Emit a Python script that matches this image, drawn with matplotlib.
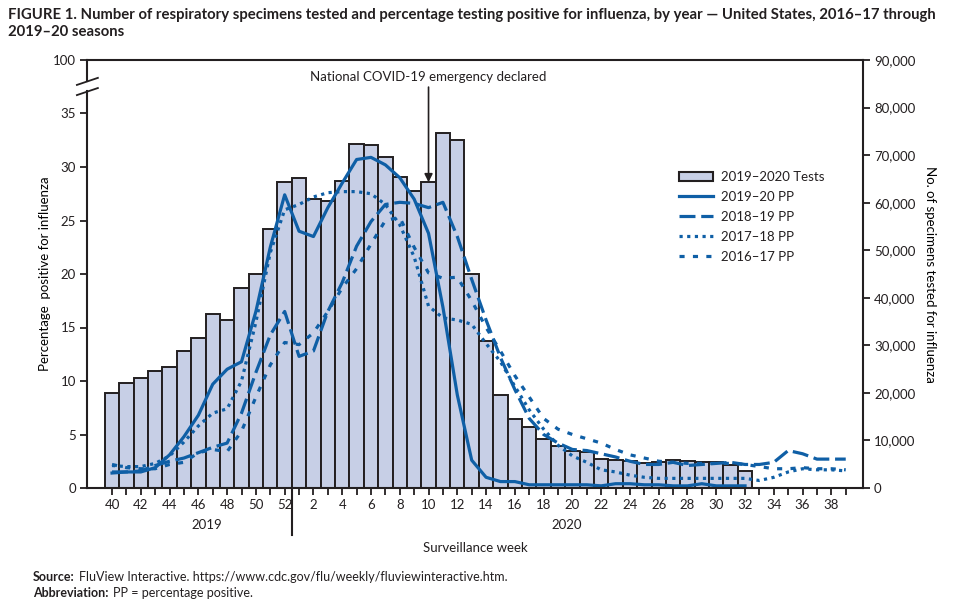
import numpy as np
import matplotlib.pyplot as plt
import matplotlib.transforms as mtransforms
from matplotlib.patches import Patch
from matplotlib.lines import Line2D

# surveillance weeks: 40..52 of 2019, then 1..39 of 2020
weeks = list(range(40, 53)) + list(range(1, 40))

# 2019-2020 specimens tested (weeks 40 .. 32)
tests = [20000, 22100, 23100, 24600, 25400, 28800, 31500, 36600, 35300, 42000,
         45000, 54400, 64300,
         65100, 60700, 60300, 64500, 72300, 72100, 69500, 65300, 62400, 64300,
         74600, 73100, 45000, 30900, 19500, 14500, 12800, 10300, 8800, 7800,
         7600, 6100, 5900, 5700, 5200, 5500, 5900, 5700, 5500, 5500, 4800, 3600]

# percentage positive per season
pp_1920 = [1.4, 1.5, 1.5, 1.9, 3.1, 4.8, 6.8, 9.7, 11.1, 11.8, 16.5, 22.5, 27.4,
           24.0, 23.5, 26.2, 28.5, 30.7, 30.9, 30.2, 29.0, 27.0, 23.8, 16.9, 8.7,
           2.6, 1.0, 0.6, 0.6, 0.3, 0.3, 0.3, 0.3, 0.3, 0.2, 0.4, 0.4, 0.3, 0.3,
           0.2, 0.2, 0.4, 0.2, 0.2, 0.2]
pp_1819 = [1.5, 1.5, 1.6, 2.1, 2.5, 2.8, 3.3, 3.8, 4.2, 7.0, 10.8, 14.3, 16.5,
           12.3, 12.8, 16.5, 19.2, 22.6, 24.9, 26.5, 26.7, 26.6, 26.2, 26.7, 23.5,
           19.5, 15.7, 12.2, 9.2, 6.5, 5.0, 4.2, 3.6, 3.5, 3.2, 2.9, 2.5, 2.2, 2.2,
           2.4, 2.1, 2.2, 2.3, 2.4, 2.2, 2.2, 2.4, 3.5, 3.2, 2.7, 2.7, 2.7]
pp_1718 = [2.1, 2.0, 2.0, 2.3, 3.0, 4.3, 5.8, 7.0, 7.4, 10.0, 15.5, 22.0, 26.0,
           26.5, 27.2, 27.6, 27.7, 27.7, 27.5, 26.5, 24.6, 21.6, 17.0, 15.9, 15.7,
           15.3, 13.5, 11.8, 9.5, 7.3, 5.5, 4.0, 3.0, 2.4, 1.7, 1.5, 1.2, 1.0, 0.9,
           0.9, 0.9, 0.9, 0.9, 0.9, 0.9, 0.7, 1.0, 1.5, 1.8, 1.7, 1.7, 1.6]
pp_1617 = [2.2, 1.9, 1.8, 1.8, 2.2, 2.4, 3.3, 3.6, 3.4, 5.3, 8.5, 11.5, 13.6,
           13.4, 14.5, 16.5, 18.7, 20.5, 22.8, 25.0, 25.3, 22.5, 20.1, 19.6, 19.7,
           17.5, 15.0, 12.8, 10.5, 8.5, 6.5, 5.5, 5.0, 4.6, 4.2, 3.6, 3.1, 2.8, 2.5,
           2.4, 2.3, 2.3, 2.3, 2.3, 2.2, 2.0, 1.8, 1.8, 1.9, 1.8, 1.8, 1.7]

right_ticks = list(range(0, 90001, 10000))
left_ticks = [0, 5, 10, 15, 20, 25, 30, 35, 40]
left_labels = ['0', '5', '10', '15', '20', '25', '30', '35', '100']

blue = '#0f5fa6'
bar_fc = '#c7cfe6'
dark = '#231f20'

plt.rcParams['font.family'] = ['Lato', 'DejaVu Sans']
plt.rcParams['text.color'] = dark

fig = plt.figure(figsize=(9.6, 6.13), dpi=100)
ax = fig.add_axes([87 / 960, 1 - 488 / 613, (863 - 87) / 960, (488 - 60) / 613])
ax2 = ax.twinx()

x_all = np.arange(len(weeks))

# bars on the right axis, lines on the left axis drawn on top
ax2.bar(np.arange(len(tests)), tests, width=1.0, color=bar_fc,
        edgecolor=dark, linewidth=1.4)
ax.set_zorder(ax2.get_zorder() + 1)
ax.patch.set_visible(False)

lw = 2.3
ax.plot(x_all[:len(pp_1920)], pp_1920, color=blue, lw=lw)
ax.plot(x_all, pp_1819, color=blue, lw=lw, dashes=(5, 1.8))
ax.plot(x_all, pp_1718, color=blue, lw=lw, dashes=(1, 1.4))
ax.plot(x_all, pp_1617, color=blue, lw=lw, dashes=(1.6, 2.6))

ax.set_xlim(-1.74, 52.2)
ax.set_ylim(0, 40)
ax2.set_ylim(0, 90000)

ax.set_xticks(x_all)
ax.set_xticklabels([str(w) if w % 2 == 0 else '' for w in weeks])
ax.set_yticks(left_ticks)
ax.set_yticklabels(left_labels)
ax2.set_yticks(right_ticks)
ax2.set_yticklabels([f'{v:,}' for v in right_ticks])

for a in (ax, ax2):
    a.tick_params(direction='out', length=5, width=1.3, color=dark,
                  labelsize=9.5, labelcolor=dark, pad=3)
    for s in a.spines.values():
        s.set_linewidth(1.5)
        s.set_color(dark)
ax.spines['right'].set_visible(False)
for s in ('left', 'top', 'bottom'):
    ax2.spines[s].set_visible(False)

# broken left axis
ax.spines['left'].set_bounds(0, 37.1)
bt = mtransforms.blended_transform_factory(ax.transAxes, ax.transData)
ax.plot([0, 0], [38.0, 40], transform=bt, color=dark, lw=1.5, clip_on=False)
for yc in (37.05, 38.0):
    ax.plot([-0.013, 0.014], [yc - 0.33, yc + 0.33], transform=bt,
            color=dark, lw=1.3, clip_on=False)

# season separator and year labels
bx = mtransforms.blended_transform_factory(ax.transData, ax.transAxes)
ax.plot([12.5, 12.5], [0, -0.11], transform=bx, color=dark, lw=1.5,
        clip_on=False)
ax.text(6.6, -0.087, '2019', transform=bx, ha='center', va='center',
        fontsize=9.5)
ax.text(31.6, -0.087, '2020', transform=bx, ha='center', va='center',
        fontsize=9.5)

# COVID-19 annotation
i_covid = weeks.index(10)
ax2.annotate('', xy=(i_covid, tests[i_covid]), xytext=(i_covid, 84300),
             arrowprops=dict(arrowstyle='-|>', color=dark, lw=1.2,
                             mutation_scale=12, shrinkA=0, shrinkB=0))
ax2.text(i_covid, 86400, 'National COVID-19 emergency declared',
         ha='center', va='center', fontsize=9.5)

ax.set_ylabel('Percentage  positive for influenza', fontsize=9.5, labelpad=1)
ax2.set_ylabel('No. of specimens tested for influenza', fontsize=9.5,
               rotation=270, labelpad=15)
fig.text(475 / 960, 1 - 548 / 613, 'Surveillance week', ha='center',
         va='center', fontsize=9.5)

handles = [Patch(facecolor=bar_fc, edgecolor=dark, linewidth=1.5),
           Line2D([], [], color=blue, lw=lw),
           Line2D([], [], color=blue, lw=lw, dashes=(5, 1.8)),
           Line2D([], [], color=blue, lw=lw, dashes=(1, 1.4)),
           Line2D([], [], color=blue, lw=lw, dashes=(1.6, 2.6))]
labels = ['2019\u20132020 Tests', '2019\u201320 PP', '2018\u201319 PP',
          '2017\u201318 PP', '2016\u201317 PP']
ax.legend(handles, labels, loc='upper left', bbox_to_anchor=(0.747, 0.768),
          frameon=False, fontsize=9.5, handlelength=2.6, labelspacing=0.6,
          handletextpad=0.6)

fig.text(8 / 960, 1 - 15 / 613,
         'FIGURE 1. Number of respiratory specimens tested and percentage testing '
         'positive for influenza, by year \u2014 United States, 2016\u201317 through',
         fontsize=10.7, fontweight='bold', va='center')
fig.text(8 / 960, 1 - 32 / 613, '2019\u201320 seasons', fontsize=10.7,
         fontweight='bold', va='center')

# footnotes: bold lead-in followed by plain text
src = fig.text(33 / 960, 1 - 577 / 613, 'Source:', fontsize=9, va='center',
               fontweight='bold')
ax.annotate('FluView Interactive. https://www.cdc.gov/flu/weekly/fluviewinteractive.htm.',
            xy=(1, 0.5), xycoords=src, xytext=(3, 0), textcoords='offset points',
            fontsize=9, va='center', annotation_clip=False)
abb = fig.text(33 / 960, 1 - 593 / 613, 'Abbreviation:', fontsize=9,
               va='center', fontweight='bold')
ax.annotate('PP = percentage positive.', xy=(1, 0.5), xycoords=abb,
            xytext=(3, 0), textcoords='offset points', fontsize=9,
            va='center', annotation_clip=False)

fig.savefig('out.png', dpi=100)
